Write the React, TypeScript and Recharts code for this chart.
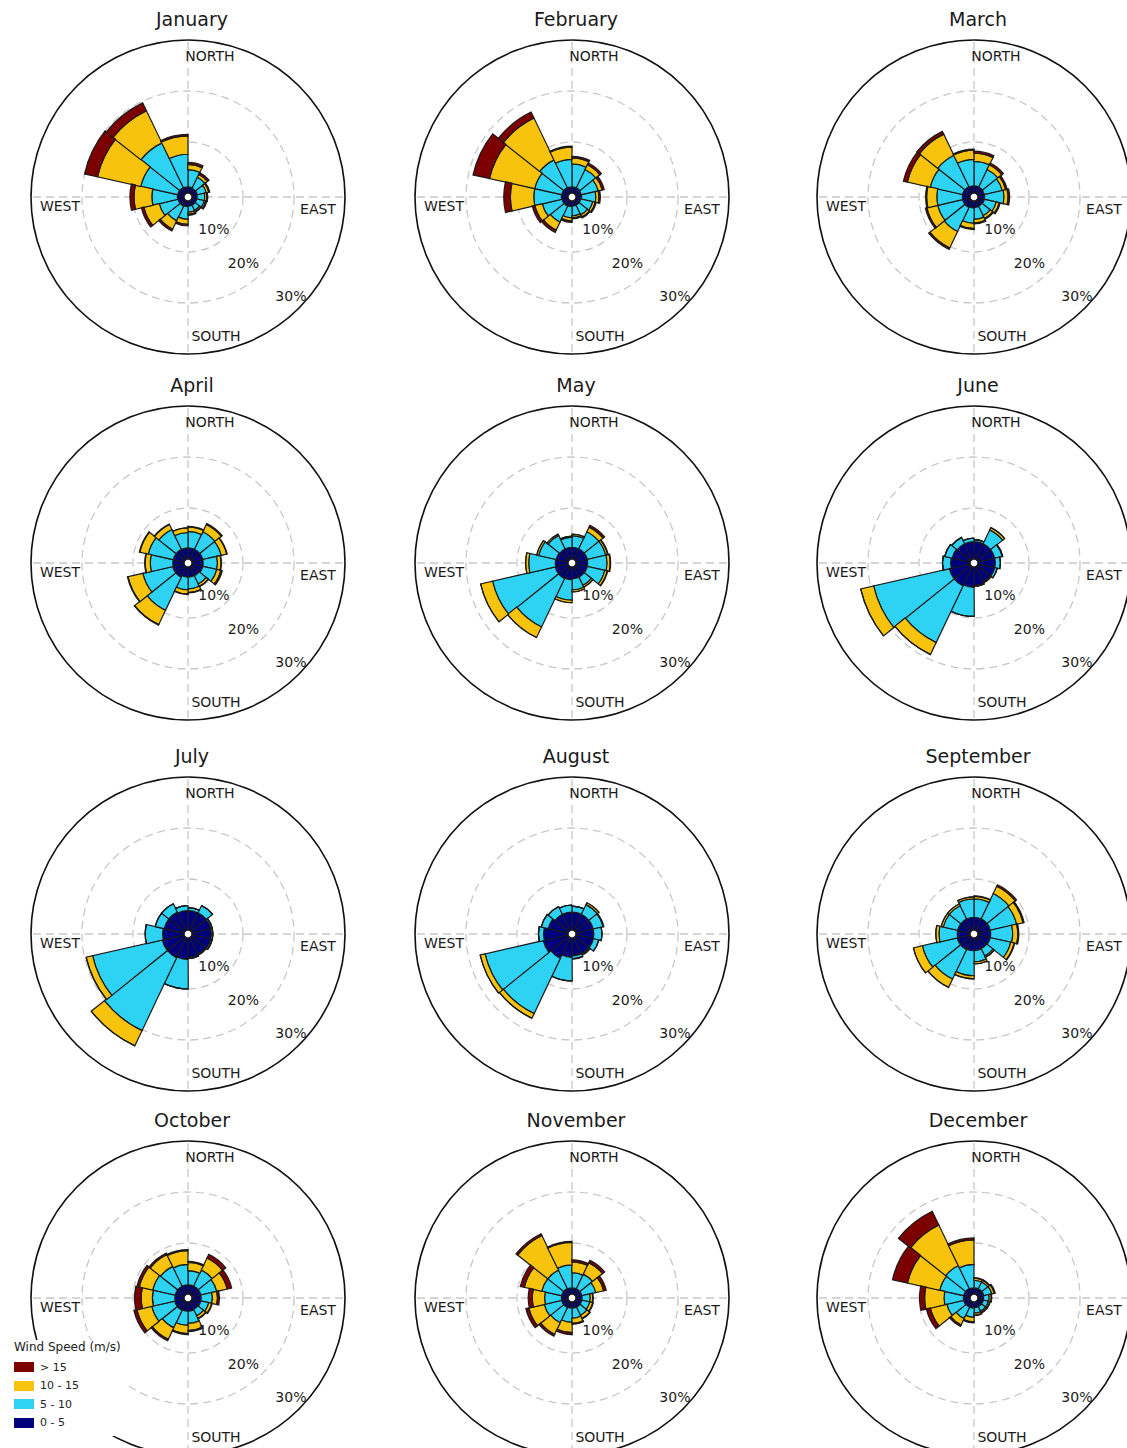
import React from 'react'
import { RadialBarChart, RadialBar, PolarAngleAxis, PolarRadiusAxis, PolarGrid } from 'recharts'

// 14 direction sectors, clockwise from north (start angle of each sector)
const SECTORS = ['0°', '26°', '51°', '77°', '103°', '129°', '154°', '180°', '206°', '231°', '257°', '283°', '309°', '334°']
const MONTHS = ['January', 'February', 'March', 'April', 'May', 'June', 'July', 'August', 'September', 'October', 'November', 'December']
const RINGS = [10, 20, 30]

// frequency (%) per sector, one row per month
const SPEED_0_5 = [
  [1.2, 1.1, 1.1, 1.0, 1.0, 1.0, 1.0, 1.1, 1.2, 1.2, 1.3, 1.3, 1.3, 1.2],
  [1.2, 1.2, 1.1, 1.1, 1.0, 1.0, 1.0, 1.1, 1.2, 1.2, 1.3, 1.3, 1.3, 1.2],
  [1.4, 1.4, 1.3, 1.3, 1.3, 1.2, 1.3, 1.4, 1.5, 1.5, 1.5, 1.5, 1.5, 1.4],
  [2.2, 2.2, 2.2, 2.2, 2.2, 2.0, 2.0, 2.0, 2.3, 2.3, 2.2, 2.2, 2.2, 2.2],
  [2.3, 2.3, 2.3, 2.3, 2.3, 2.3, 2.3, 2.5, 2.6, 2.6, 2.5, 2.4, 2.3, 2.3],
  [3.4, 3.4, 3.4, 3.4, 3.4, 3.3, 3.6, 4.0, 4.2, 4.2, 3.8, 3.6, 3.4, 3.4],
  [3.8, 3.8, 3.8, 3.8, 3.8, 3.6, 3.8, 4.2, 4.4, 4.4, 4.2, 4.0, 4.0, 3.8],
  [3.5, 3.5, 3.5, 3.5, 3.5, 3.5, 3.5, 3.8, 4.5, 5.0, 4.8, 4.0, 3.5, 3.5],
  [2.5, 2.5, 2.5, 2.5, 2.5, 2.4, 2.5, 2.5, 2.6, 2.6, 2.5, 2.5, 2.5, 2.5],
  [1.8, 1.8, 1.8, 1.8, 1.8, 1.7, 1.8, 1.8, 1.9, 1.9, 1.8, 1.8, 1.8, 1.8],
  [1.2, 1.2, 1.2, 1.2, 1.2, 1.2, 1.2, 1.2, 1.3, 1.3, 1.3, 1.3, 1.3, 1.2],
  [1.2, 1.2, 1.2, 1.1, 1.1, 1.1, 1.1, 1.2, 1.2, 1.3, 1.3, 1.3, 1.3, 1.2],
]
const SPEED_5_10 = [
  [3.4, 2.4, 1.8, 1.5, 1.5, 1.1, 1.2, 2.5, 3.2, 3.8, 5.0, 7.4, 9.7, 6.4],
  [4.5, 4.0, 3.4, 2.8, 2.4, 2.1, 1.9, 2.2, 3.5, 4.0, 5.4, 5.4, 6.0, 5.4],
  [4.8, 3.8, 3.6, 3.8, 2.4, 2.1, 2.3, 3.0, 5.2, 5.0, 5.0, 6.5, 6.8, 5.2],
  [3.2, 3.8, 3.7, 2.8, 2.8, 1.8, 2.3, 2.5, 7.2, 6.0, 4.4, 5.0, 4.3, 3.0],
  [2.3, 3.7, 3.7, 3.8, 3.5, 1.8, 2.2, 4.0, 10.5, 12.6, 5.2, 3.5, 2.9, 2.0],
  [0.4, 3.0, 1.5, 1.0, 0.5, 0.2, 0.2, 5.7, 12.3, 15.2, 1.6, 1.5, 1.4, 0.7],
  [0.6, 1.6, 0.3, 0.3, 0.3, 0.2, 0.2, 5.8, 15.8, 14.0, 3.4, 1.8, 1.8, 1.0],
  [1.2, 2.1, 2.0, 1.6, 1.1, 0.3, 0.6, 4.6, 12.0, 11.7, 1.0, 1.4, 1.7, 1.4],
  [3.6, 5.5, 5.3, 4.3, 4.1, 1.6, 2.2, 4.9, 6.4, 7.0, 3.6, 2.9, 2.9, 3.6],
  [2.8, 3.5, 3.2, 2.2, 1.6, 1.4, 2.4, 2.8, 3.8, 4.6, 4.4, 4.5, 4.3, 4.0],
  [3.0, 3.2, 2.8, 1.6, 1.6, 1.8, 2.0, 2.8, 3.3, 3.5, 3.3, 4.0, 4.0, 4.5],
  [1.5, 1.5, 1.6, 1.1, 1.0, 1.0, 1.1, 1.8, 2.5, 3.4, 3.8, 4.8, 5.0, 4.6],
]
const SPEED_10_15 = [
  [1.0, 0.6, 0.5, 0.4, 0.3, 0.3, 0.4, 1.0, 1.8, 3.1, 3.5, 8.7, 7.0, 3.6],
  [1.2, 1.0, 0.8, 0.6, 0.5, 0.5, 0.4, 0.6, 1.7, 1.5, 4.6, 9.1, 9.1, 2.4],
  [1.6, 1.0, 0.7, 0.8, 0.6, 0.6, 0.7, 1.0, 3.6, 2.2, 2.0, 4.6, 4.6, 1.8],
  [0.9, 1.6, 1.1, 0.7, 0.8, 0.5, 0.7, 0.8, 3.1, 3.0, 1.0, 1.7, 1.1, 0.9],
  [0.3, 1.0, 0.4, 0.6, 0.5, 0.4, 0.4, 0.5, 2.3, 2.4, 0.6, 0.4, 0.3, 0.2],
  [0, 0.5, 0.1, 0, 0, 0, 0, 0, 2.6, 2.6, 0, 0, 0, 0],
  [0, 0, 0, 0, 0, 0, 0, 0, 3.3, 1.3, 0, 0, 0, 0],
  [0, 0.4, 0.1, 0, 0, 0, 0, 0, 1.0, 1.0, 0, 0, 0, 0],
  [0.5, 1.6, 1.3, 1.0, 0.7, 0.3, 0.4, 0.6, 1.8, 1.8, 0.6, 0.4, 0.4, 0.4],
  [1.6, 2.6, 2.1, 1.0, 0.6, 0.6, 1.4, 1.6, 2.5, 3.0, 2.2, 2.7, 2.6, 2.7],
  [2.1, 2.5, 1.6, 0.5, 0.6, 0.7, 1.0, 2.0, 2.5, 3.1, 2.4, 3.5, 7.5, 4.4],
  [0.4, 0.4, 0.5, 0.4, 0.3, 0.3, 0.4, 0.9, 1.4, 3.3, 3.8, 6.5, 8.8, 4.8],
]
const SPEED_OVER_15 = [
  [0.4, 0.4, 0.2, 0.2, 0.2, 0.1, 0.2, 0.3, 0.4, 0.5, 0.8, 2.6, 1.7, 0.3],
  [0.3, 0.4, 0.4, 0.3, 0.2, 0.2, 0.2, 0.3, 0.5, 0.5, 1.3, 3.3, 1.3, 0.2],
  [0.4, 0.4, 0.3, 0.3, 0.2, 0.2, 0.2, 0.2, 0.3, 0.3, 0.2, 0.8, 0.6, 0.2],
  [0.1, 0.2, 0.1, 0.1, 0.3, 0.1, 0.1, 0.1, 0.1, 0.1, 0.1, 0.1, 0.1, 0],
  [0, 0.4, 0.1, 0.1, 0.1, 0, 0, 0, 0, 0, 0, 0, 0, 0],
  [0, 0, 0, 0, 0, 0, 0, 0, 0, 0, 0, 0, 0, 0],
  [0, 0, 0, 0, 0, 0, 0, 0, 0, 0, 0, 0, 0, 0],
  [0, 0, 0, 0, 0, 0, 0, 0, 0, 0, 0, 0, 0, 0],
  [0.1, 0.3, 0.2, 0.2, 0.1, 0, 0, 0, 0, 0, 0, 0, 0, 0],
  [0.2, 0.8, 0.9, 0.4, 0.1, 0.1, 0.2, 0.2, 0.3, 0.6, 1.3, 0.5, 0.3, 0.2],
  [0.4, 0.5, 0.5, 0.1, 0.1, 0.1, 0.2, 0.4, 0.4, 0.6, 0.8, 0.8, 0.4, 0.2],
  [0.1, 0.1, 0.2, 0.1, 0.1, 0.1, 0.1, 0.2, 0.3, 0.8, 1.0, 3.0, 3.0, 0.4],
]

const BINS = [
  { key: 's0', label: '0 - 5', color: '#00007f' },
  { key: 's1', label: '5 - 10', color: '#2ed3f4' },
  { key: 's2', label: '10 - 15', color: '#f8c30c' },
  { key: 's3', label: '> 15', color: '#7d0000' },
]

const COL_X = [188, 572, 974]
const ROW_Y = [197, 563, 934, 1298]
const SIZE = 340
const OUTER = 157
const STEP = 360 / SECTORS.length
const FONT = '"DejaVu Sans", Verdana, sans-serif'

const lbl = (x: number, y: number, size = 14): React.CSSProperties => ({
  position: 'absolute', left: x, top: y, transform: 'translate(-50%, -50%)',
  fontSize: size, color: '#1a1a1a', fontFamily: FONT, whiteSpace: 'nowrap',
})

const RingTick = ({ x, y, payload }: any) => (
  <text x={x} y={y} dx={payload.value === 20 ? -9 : 0} dy={-3} textAnchor="end" dominantBaseline="middle"
    fontSize={14} fill="#1a1a1a" fontFamily={FONT}>
    {payload.value}%
  </text>
)

function WindRose({ m, cx, cy }: { m: number; cx: number; cy: number }) {
  const data = SECTORS.map((d, i) => ({
    dir: d, s0: SPEED_0_5[m][i], s1: SPEED_5_10[m][i], s2: SPEED_10_15[m][i], s3: SPEED_OVER_15[m][i],
  }))
  return (
    <>
      <div style={lbl(cx + 4, cy - 178, 19)}>{MONTHS[m]}</div>
      <div style={{ position: 'absolute', left: cx - SIZE / 2, top: cy - SIZE / 2 }}>
        <RadialBarChart width={SIZE} height={SIZE} data={data} cx={SIZE / 2} cy={SIZE / 2}
          innerRadius={4} outerRadius={OUTER} startAngle={90 - STEP} endAngle={-270 - STEP}
          layout="centric" barCategoryGap="0%" margin={{ top: 0, right: 0, bottom: 0, left: 0 }}>
          <PolarGrid gridType="circle" polarAngles={[90, 0, -90, 180]} stroke="#c8c8c8" strokeDasharray="8 5" strokeWidth={1.3} />
          <PolarGrid gridType="circle" polarRadius={[OUTER]} radialLines={false} stroke="#111" strokeWidth={1.6} />
          <PolarAngleAxis type="category" dataKey="dir" tick={false} axisLine={false} tickLine={false} />
          <PolarRadiusAxis type="number" domain={[0, 30]} ticks={RINGS} angle={-41}
            axisLine={false} tickLine={false} tick={<RingTick />} />
          {BINS.map((b) => (
            <RadialBar key={b.key} dataKey={b.key} stackId="w" fill={b.color} stroke="#1a1a1a"
              strokeWidth={1.2} isAnimationActive={false} />
          ))}
        </RadialBarChart>
      </div>
      <div style={lbl(cx + 22, cy - 141)}>NORTH</div>
      <div style={lbl(cx + 28, cy + 139)}>SOUTH</div>
      <div style={lbl(cx - 128, cy + 9)}>WEST</div>
      <div style={lbl(cx + 130, cy + 12)}>EAST</div>
    </>
  )
}

export default function App() {
  return (
    <div style={{ position: 'relative', width: 1127, height: 1448, background: '#fff', overflow: 'hidden' }}>
      <style>{`body{margin:0}`}</style>
      {MONTHS.map((_, m) => (
        <WindRose key={m} m={m} cx={COL_X[m % 3]} cy={ROW_Y[Math.floor(m / 3)]} />
      ))}
      <div style={{ position: 'absolute', left: 12, top: 1340, padding: '0 4px 4px 2px', background: '#fff',
        fontFamily: FONT, fontSize: 12, color: '#222' }}>
        <div style={{ marginBottom: 4 }}>Wind Speed (m/s)</div>
        {[...BINS].reverse().map((b) => (
          <div key={b.key} style={{ display: 'flex', alignItems: 'center', height: 18.5 }}>
            <span style={{ width: 20, height: 10, background: b.color, marginRight: 6 }} />
            <span style={{ fontSize: 11 }}>{b.label}</span>
          </div>
        ))}
      </div>
    </div>
  )
}
